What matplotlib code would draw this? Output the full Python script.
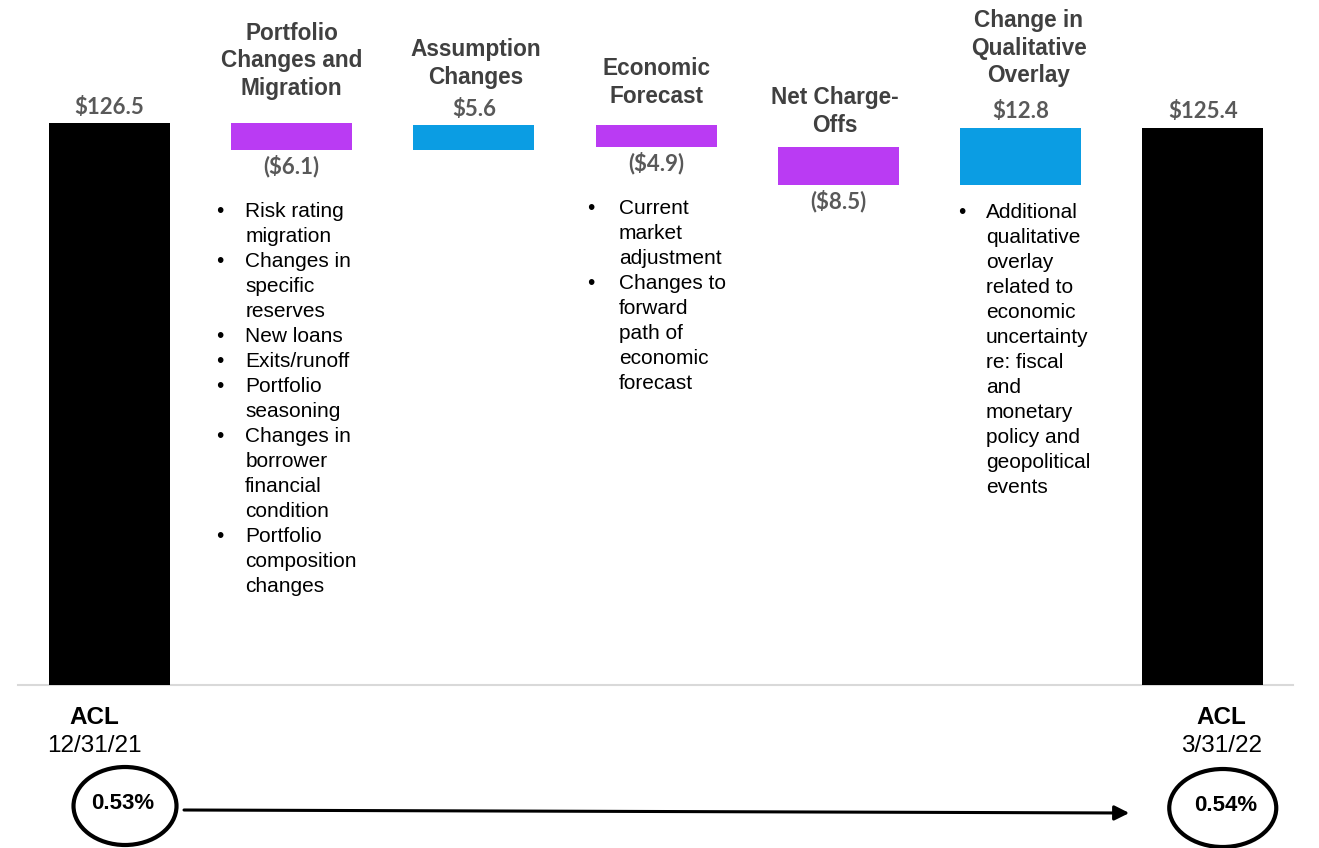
import matplotlib.pyplot as plt
from matplotlib.patches import Ellipse

# data
steps = ["ACL 12/31/21", "Portfolio Changes and Migration", "Assumption Changes",
         "Economic Forecast", "Net Charge-Offs", "Change in Qualitative Overlay",
         "ACL 3/31/22"]
values = [126.5, -6.1, 5.6, -4.9, -8.5, 12.8, 125.4]
is_total = [True, False, False, False, False, False, True]
value_labels = ["$126.5", "($6.1)", "$5.6", "($4.9)", "($8.5)", "$12.8", "$125.4"]
titles = [
    [],
    ["Portfolio", "Changes and", "Migration"],
    ["Assumption", "Changes"],
    ["Economic", "Forecast"],
    ["Net Charge-", "Offs"],
    ["Change in", "Qualitative", "Overlay"],
    [],
]
bullets = {
    1: [["Risk rating", "migration"], ["Changes in", "specific", "reserves"],
        ["New loans"], ["Exits/runoff"], ["Portfolio", "seasoning"],
        ["Changes in", "borrower", "financial", "condition"],
        ["Portfolio", "composition", "changes"]],
    3: [["Current", "market", "adjustment"],
        ["Changes to", "forward", "path of", "economic", "forecast"]],
    5: [["Additional", "qualitative", "overlay", "related to", "economic",
         "uncertainty", "re: fiscal", "and", "monetary", "policy and",
         "geopolitical", "events"]],
}
end_labels = {0: ("ACL", "12/31/21"), 6: ("ACL", "3/31/22")}
acl_ratio = {0: "0.53%", 6: "0.54%"}

# layout (pixels)
title_gap = [0, 35, 48, 29, 22, 52, 0]
title_dx = [0, 0, 2, 0, -4, 8, 0]
bullet_dot_dx = {1: -11, 3: -5, 5: 2}
bullet_text_dx = {1: 14, 3: 23, 5: 26}
end_dx = {0: -15, 6: 19}

PURPLE = "#BA3BF3"
BLUE = "#0B9DE3"
TITLE = "#404040"
VALUE = "#595959"
SANS = "Liberation Sans"

W, H = 1319, 848
fig = plt.figure(figsize=(W / 100, H / 100), dpi=100)
ax = fig.add_axes([0, 0, 1, 1])
x0, x1 = -0.601, 6.638
y0, y1 = -36.69, 154.19
ax.set_xlim(x0, x1)
ax.set_ylim(y0, y1)
ax.axis("off")
sx = W / (x1 - x0)
sy = H / (y1 - y0)
bw = 0.664

# waterfall geometry
bottoms, heights, colors = [], [], []
run = 0.0
for v, tot in zip(values, is_total):
    if tot:
        bottoms.append(0.0)
        heights.append(v)
        colors.append("black")
        run = v
    else:
        lo = min(run, run + v)
        bottoms.append(lo)
        heights.append(abs(v))
        colors.append(BLUE if v > 0 else PURPLE)
        run += v

xs = list(range(len(values)))
ax.bar(xs, heights, bottom=bottoms, width=bw, color=colors, zorder=2)
ax.plot([x0 + 18 / sx, x0 + 1293 / sx], [0, 0], color="#D9D9D9", lw=1.5, zorder=1)


def put(x, y, dx, dy, s, **kw):
    ax.annotate(s, (x, y), xytext=(dx, dy), textcoords="offset pixels", **kw)


for i in xs:
    top = bottoms[i] + heights[i]
    bot = bottoms[i]
    neg = (not is_total[i]) and values[i] < 0
    # value label
    if neg:
        put(i, bot, 0, -16, value_labels[i], ha="center", va="center",
            fontsize=16, fontweight="bold", color=VALUE, family="Lato")
    else:
        put(i, top, 0, 16, value_labels[i], ha="center", va="center",
            fontsize=16, fontweight="bold", color=VALUE, family="Lato")
    # titles
    lines = titles[i]
    for k, line in enumerate(lines):
        up = title_gap[i] + (len(lines) - 1 - k) * 27.5
        put(i, top, title_dx[i], up, line, ha="center", va="center",
            fontsize=16.3, fontweight="bold", color=TITLE, family=SANS)
    # bullets
    if i in bullets:
        start = 61 if neg else 28
        n = 0
        for item in bullets[i]:
            put(i - bw / 2, bot, bullet_dot_dx[i], -(start + n * 25), "\u2022",
                ha="center", va="center", fontsize=15, color="black", family=SANS)
            for line in item:
                put(i - bw / 2, bot, bullet_text_dx[i], -(start + n * 25), line,
                    ha="left", va="center", fontsize=15, color="black", family=SANS)
                n += 1

# end labels and ratios
ell_pos = {}
for i, (a, b) in end_labels.items():
    put(i, 0, end_dx[i], -32, a, ha="center", va="center", fontsize=17.5,
        fontweight="bold", color="black", family=SANS)
    put(i, 0, end_dx[i], -61, b, ha="center", va="center", fontsize=17.5,
        color="black", family=SANS)

ell_dx = {0: 15.5, 6: 20}
ell_dy = {0: -121, 6: -123}
ell_w = {0: 103, 6: 107}
for i, txt in acl_ratio.items():
    cx = i + ell_dx[i] / sx
    cy = ell_dy[i] / sy
    ax.add_patch(Ellipse((cx, cy), ell_w[i] / sx, 78 / sy, fill=False,
                         ec="black", lw=3, zorder=3))
    put(cx, cy, -2 if i == 0 else 3, 3, txt, ha="center", va="center",
        fontsize=16, fontweight="bold", color="black", family=SANS)

ax.annotate("", xy=(6 + (1130 - 1203.5) / sx, -128 / sy),
            xytext=(0 + (184 - 109.5) / sx, -125 / sy),
            arrowprops=dict(arrowstyle="-|>", lw=2.2, color="black",
                            mutation_scale=22, shrinkA=0, shrinkB=0))

fig.savefig("out.png", dpi=100)
